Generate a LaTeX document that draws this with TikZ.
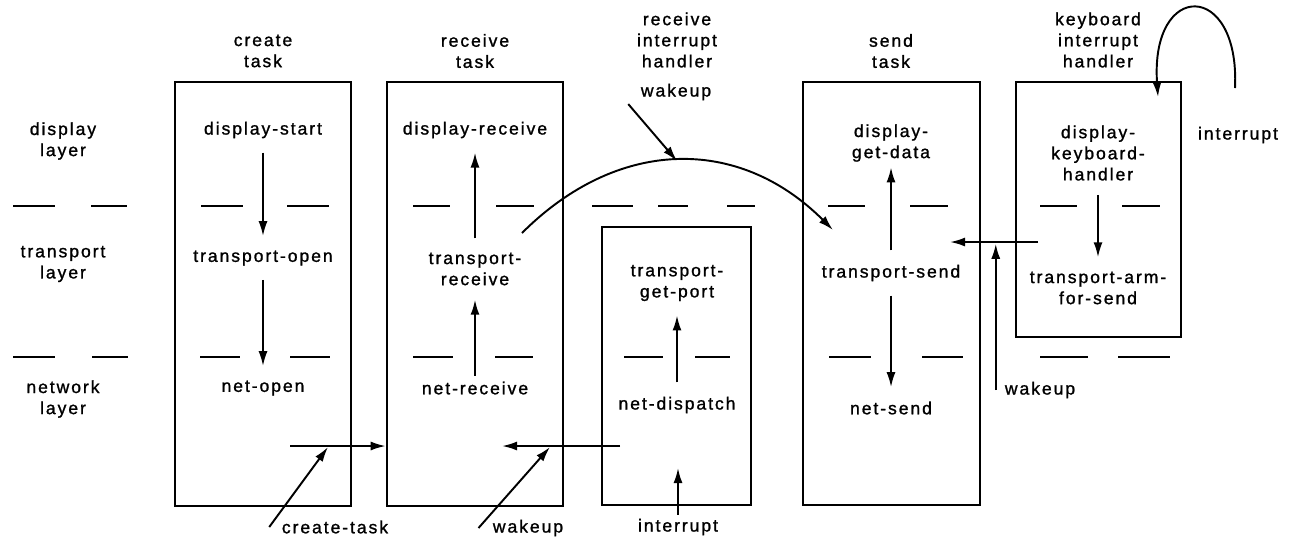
\documentclass[tikz,border=0pt]{standalone}
\usepackage{fontspec}
\setmainfont{Liberation Sans}[LetterSpace=11,FakeBold=1.2]
\usepackage{tikz}
\usetikzlibrary{positioning,fit}
\usetikzlibrary{calc,arrows.meta}

\begin{document}
\begin{tikzpicture}
	[   x=0.02cm,y=-0.02cm,
	    taskbox/.style={draw=black,line width=1.5pt,inner sep=0pt},
	    lbl/.style={align=center,inner sep=2pt},
	    layer line/.style={draw,line width=0.9pt},
	]
	\tikzset{flow arrow/.style={draw,line width=1.1pt,-{Latex[length=3mm,width=1.8mm]},shorten >=6pt,shorten <=6pt}}
	\useasboundingbox (0,0) rectangle (1293,539);
	
	% layer names on the left
	\node[lbl] (dispLayer) at (63,141) {display\\layer};
	\node[lbl] (transLayer) at (63,264) {transport\\layer};
	\node[lbl] (netLayer) at (63,399) {network\\layer};
	
	% task boxes and their titles
	\node[taskbox,fit={(175,82) (351,506)}] (createBox) {};
	\node[taskbox,fit={(387,82) (563,506)}] (recvBox) {};
	\node[taskbox,fit={(602,227) (751,505)}] (riBox) {};
	\node[taskbox,fit={(803,82) (980,505)}] (sendBox) {};
	\node[taskbox,fit={(1016,82) (1181,337)}] (kbBox) {};
	
	\node[lbl] (createTitle) at (263,51) {create\\task};
	\node[lbl] (recvTitle) at (475,51) {receive\\task};
	\node[lbl] (riTitle) at (677,40) {receive\\interrupt\\handler};
	\node[lbl] (sendTitle) at (891,51) {send\\task};
	\node[lbl] (kbTitle) at (1098,40) {keyboard\\interrupt\\handler};
	
	% layer boundaries
	\foreach \a/\b/\y in {13/55/206, 91/127/206, 201/243/206, 287/329/206,
		413/450/206, 496/534/206, 592/633/206, 658/688/206, 727/755/206,
		828/865/206, 910/948/206, 1040/1077/206, 1122/1160/206,
		13/55/357, 92/128/357, 200/240/357, 290/330/357, 413/453/357,
		495/533/357, 624/663/357, 695/730/357, 829/871/357, 922/963/357,
		1040/1088/357, 1118/1170/357}
	{
		\path[layer line] (\a,\y) -- (\b,\y);
	}
	
	% procedures
	\node[lbl] (dispStart) at (263,130) {display-start};
	\node[lbl] (transOpen) at (263,258) {transport-open};
	\node[lbl] (netOpen) at (263,388) {net-open};
	
	\node[lbl] (dispRecv) at (475,130) {display-receive};
	\node[lbl] (transRecv) at (475,269) {transport-\\receive};
	\node[lbl] (netRecv) at (475,388) {net-receive};
	
	\node[lbl] (transPort) at (677,283) {transport-\\get-port};
	\node[lbl] (netDisp) at (677,405) {net-dispatch};
	
	\node[lbl] (dispData) at (891,143) {display-\\get-data};
	\node[lbl] (transSend) at (891,273) {transport-send};
	\node[lbl] (netSend) at (891,408) {net-send};
	
	\node[lbl] (dispKbd) at (1098,153) {display-\\keyboard-\\handler};
	\node[lbl] (transArm) at (1098,288) {transport-arm-\\for-send};
	
	% calls inside the tasks
	\path[flow arrow] (dispStart) -- (transOpen);
	\path[flow arrow] (transOpen) -- (netOpen);
	\path[flow arrow,shorten <=1pt] (netRecv) -- (transRecv);
	\path[flow arrow] (transRecv) -- (dispRecv);
	\path[flow arrow] (netDisp) -- (transPort);
	\path[flow arrow,shorten >=1pt] (transSend) -- (dispData);
	\path[flow arrow] (transSend) -- (netSend);
	\path[flow arrow] (dispKbd) -- (transArm);
	
	% events
	\node[lbl] (createLbl) at (335,527) {create-task};
	\node[lbl] (wakeLbl) at (528,528) {wakeup};
	\node[lbl] (intLbl) at (678,527) {interrupt};
	\node[lbl] (wakeTopLbl) at (676,92) {wakeup};
	\node[lbl] (wakeRtLbl) at (1040,390) {wakeup};
	\node[lbl] (kbIntLbl) at (1238,135) {interrupt};
	
	\coordinate (ctStart) at (290,446);
	\coordinate (ctHit) at (328,447);
	\path[flow arrow,shorten >=0pt,shorten <=0pt] (ctStart) -- (ctStart -| recvBox.west);
	\path[flow arrow,shorten >=0pt,shorten <=0pt] ([xshift=-5pt]createLbl.west) -- (ctHit);
	
	\coordinate (wkStart) at (620,446);
	\coordinate (wkEnd) at (502,446);
	\coordinate (wkHit) at (550,447);
	\path[flow arrow,shorten >=0pt,shorten <=0pt] (wkStart) -- (wkEnd);
	\path[flow arrow,shorten >=0pt,shorten <=0pt] ([xshift=-6pt]wakeLbl.west) -- (wkHit);
	
	\coordinate (intTip) at (678,468);
	\path[flow arrow,shorten >=0pt,shorten <=0pt] (intLbl.north) -- (intTip);
	
	% wakeup from receive to send
	\coordinate (arcFrom) at (522,233);
	\coordinate (arcTop) at (677,161);
	\coordinate (arcTo) at (833,230);
	\path[flow arrow,shorten >=0pt,shorten <=0pt] (arcFrom) .. controls (617,138) and (738,135) .. (arcTo);
	\path[flow arrow,shorten >=0pt,shorten <=0pt] ([xshift=-5pt]wakeTopLbl.south west) -- (arcTop);
	
	% keyboard handler to send task
	\coordinate (kbOut) at (1038,242);
	\coordinate (sendIn) at (950,242);
	\coordinate (wkUp) at ([xshift=-3pt]wakeRtLbl.west);
	\path[flow arrow,shorten >=0pt,shorten <=0pt] (kbOut) -- (sendIn);
	\path[flow arrow,shorten >=1pt,shorten <=0pt] (wkUp) -- (wkUp |- kbOut);
	
	\coordinate (kbIntFrom) at (1235,88);
	\coordinate (kbIntTo) at (1158,97);
	\path[flow arrow,shorten >=0pt,shorten <=0pt] (kbIntFrom) .. controls (1240,-20) and (1150,-20) .. (kbIntTo);
\end{tikzpicture}
\end{document}
